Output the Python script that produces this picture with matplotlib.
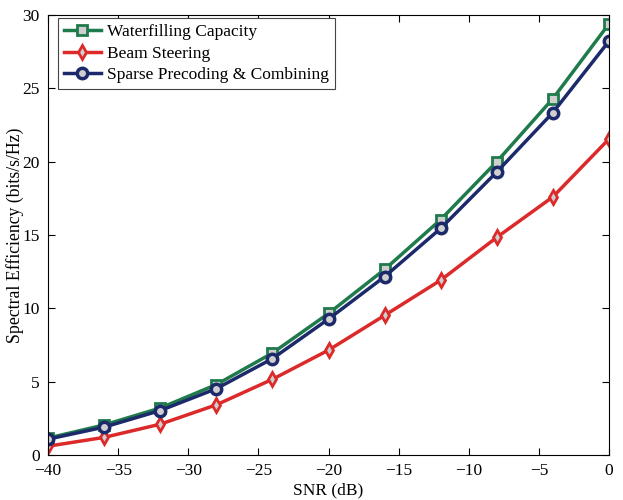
import matplotlib
matplotlib.use('Agg')
import matplotlib.pyplot as plt

snr = [-40, -36, -32, -28, -24, -20, -16, -12, -8, -4, 0]
waterfilling = [1.15, 2.05, 3.2, 4.8, 6.95, 9.65, 12.65, 16.05, 20.0, 24.3, 29.4]
beam_steering = [0.6, 1.2, 2.1, 3.42, 5.16, 7.15, 9.52, 11.92, 14.84, 17.6, 21.55]
sparse = [1.08, 1.9, 3.03, 4.52, 6.57, 9.27, 12.16, 15.45, 19.3, 23.35, 28.22]

plt.rcParams['font.family'] = ['Liberation Serif', 'DejaVu Serif']

fig = plt.figure(figsize=(6.23, 5.0), dpi=100)
ax = fig.add_axes([48 / 623, 0.09, 561 / 623, 0.88])

face = '#cfcfcf'
ax.plot(snr, waterfilling, color='#1f7a4c', lw=2.5, marker='s', ms=6.5,
        mew=2, mfc=face, mec='#1f7a4c', label='Waterfilling Capacity')
ax.plot(snr, beam_steering, color='#dc2a2a', lw=2.5, marker='d', ms=7.5,
        mew=2, mfc=face, mec='#dc2a2a', label='Beam Steering')
ax.plot(snr, sparse, color='#1c2a6b', lw=2.5, marker='o', ms=7.5,
        mew=2.5, mfc=face, mec='#1c2a6b', label='Sparse Precoding & Combining')

ax.set_xlim(-40, 0)
ax.set_ylim(0, 30)
ax.set_xticks(range(-40, 1, 5))
ax.set_yticks(range(0, 31, 5))
ax.tick_params(direction='in', top=True, right=True, labelsize=12.5, length=5)
ax.tick_params(axis='y', pad=6)
ax.tick_params(axis='x', pad=6)
ax.set_xlabel('SNR (dB)', fontsize=12.5, labelpad=2)
ax.set_ylabel('Spectral Efficiency (bits/s/Hz)', fontsize=12.8, labelpad=-1)

leg = ax.legend(loc='upper left', bbox_to_anchor=(10 / 561, 1 - 3 / 440),
                fontsize=12.5, fancybox=False, framealpha=1,
                edgecolor='#444444', borderaxespad=0, handlelength=2.1,
                handletextpad=0.35, labelspacing=0.3, borderpad=0.35)
leg.get_frame().set_linewidth(0.8)

fig.savefig('out.png', dpi=100)
